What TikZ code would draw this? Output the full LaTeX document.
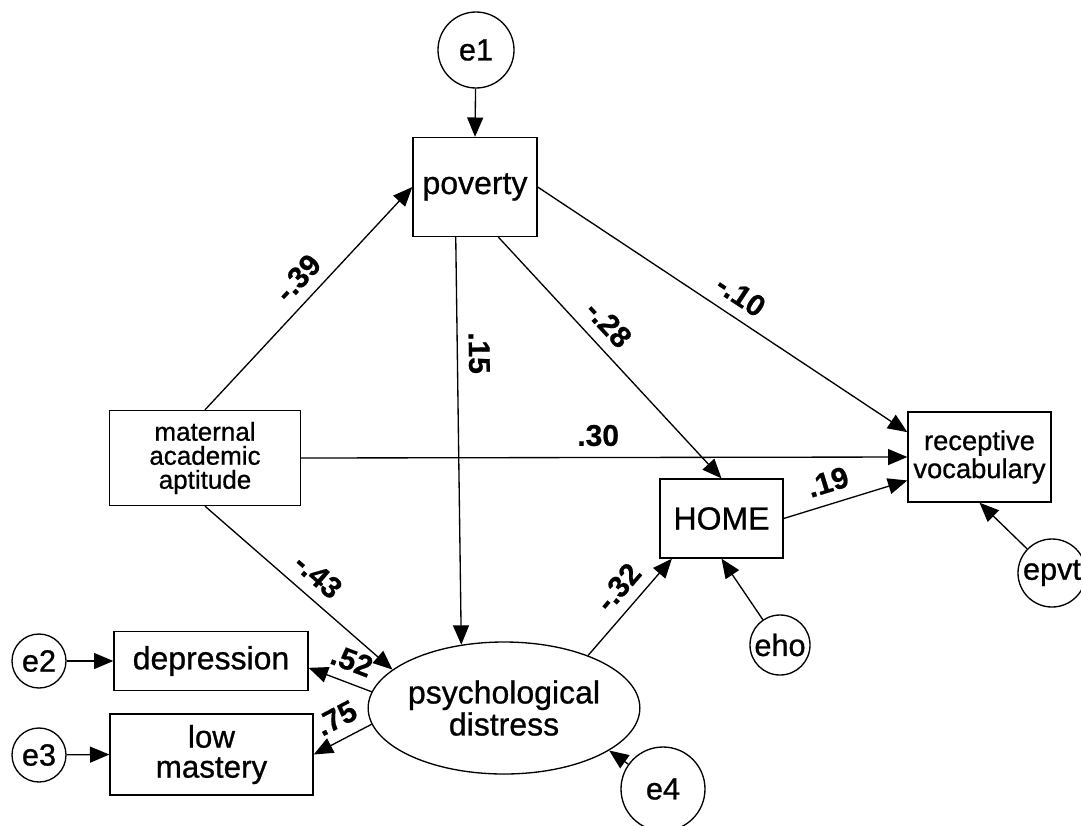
\documentclass[tikz,border=0pt]{standalone}
\usepackage{fontspec}
\setmainfont{Liberation Sans}
\newfontfamily\nodefont[FakeBold=0.8]{Liberation Sans}
\newfontfamily\coeffont[FakeBold=0.6]{Liberation Sans Bold}
\usetikzlibrary{arrows.meta,shapes.geometric}
\begin{document}
\begin{tikzpicture}[x=0.75pt,y=-0.75pt,
  box/.style={draw,line width=1pt,rectangle,inner sep=0pt,align=center,font=\nodefont\fontsize{24}{22}\selectfont},
  latent/.style={draw,line width=1pt,ellipse,inner sep=0pt,align=center,font=\nodefont\fontsize{24}{24}\selectfont},
  err/.style={draw,line width=1pt,circle,inner sep=0pt,font=\nodefont\fontsize{23}{23}\selectfont},
  arr/.style={line width=1pt,-{Triangle[length=14.5pt,width=12pt]}},
  coef/.style={font=\coeffont\fontsize{22.5}{22.5}\selectfont,sloped,above=7pt,inner sep=1pt}
]
\clip (0,0) rectangle (1081,825);
\fill[white] (0,0) rectangle (1081,825);

% observed variables
\node[box,minimum width=93pt,minimum height=74.25pt] (poverty) at (475,187) {poverty};
\node[box,minimum width=143.25pt,minimum height=71.25pt,font=\nodefont\fontsize{19.5}{18}\selectfont] (maternal) at (205,458) {maternal\\academic\\aptitude};
\node[box,minimum width=145.5pt,minimum height=44.25pt] (depression) at (211,661) {depression};
\node[box,minimum width=152.25pt,minimum height=60.75pt,font=\nodefont\fontsize{23.5}{22.5}\selectfont] (low) at (211.5,754.5) {low\\mastery};
\node[box,minimum width=92.25pt,minimum height=59.25pt] (HOME) at (721.5,518.5) {HOME};
\node[box,minimum width=107.25pt,minimum height=67.5pt,font=\nodefont\fontsize{20.5}{21}\selectfont] (receptive) at (979.5,457) {receptive\\vocabulary};

% latent variable
\node[latent,minimum width=163.5pt,minimum height=99pt] (psych) at (504,708) {psychological\\distress};

% error terms
\node[err,minimum size=57pt] (e1) at (476,50) {e1};
\node[err,minimum size=40.5pt] (e2) at (39,661) {e2};
\node[err,minimum size=40.5pt] (e3) at (39,755) {e3};
\node[err,minimum size=63pt] (e4) at (663,789) {e4};
\node[err,minimum size=45pt] (eho) at (780,645) {eho};
\node[err,minimum size=51pt] (epvt) at (1052,573) {epvt};

% paths
\draw[arr] (e1) -- (poverty.north);
\draw[arr] (maternal.north) -- node[coef,pos=0.525]{-.39} (poverty.west);
\draw[arr] (maternal.east) -- node[coef,pos=0.49]{.30} (receptive.west);
\draw[arr] (maternal.south) -- node[coef,pos=0.527]{-.43} (psych.161);
\draw[arr] (poverty.-111) -- node[coef,pos=0.285]{.15} (psych.124);
\draw[arr] (poverty.-65) -- node[coef,pos=0.422]{-.28} (HOME.north);
\draw[arr] (poverty.east) -- node[coef,pos=0.517]{-.10} (receptive.161);
\draw[arr] (HOME.east) -- node[coef,pos=0.409]{.19} (receptive.-162);
\draw[arr] (psych.32) -- node[coef,pos=0.557]{-.32} (HOME.-141);
\draw[arr] (psych.173) -- node[coef,pos=0.437]{.52} (depression.-4);
\draw[arr] (psych.187) -- node[coef,pos=0.437]{.75} (low.east);
\draw[arr] (e2) -- (depression.west);
\draw[arr] (e3) -- (low.west);
\draw[arr] (e4) -- (psych.-22);
\draw[arr] (eho) -- (HOME.south);
\draw[arr] (epvt) -- (receptive.south);
\end{tikzpicture}
\end{document}
